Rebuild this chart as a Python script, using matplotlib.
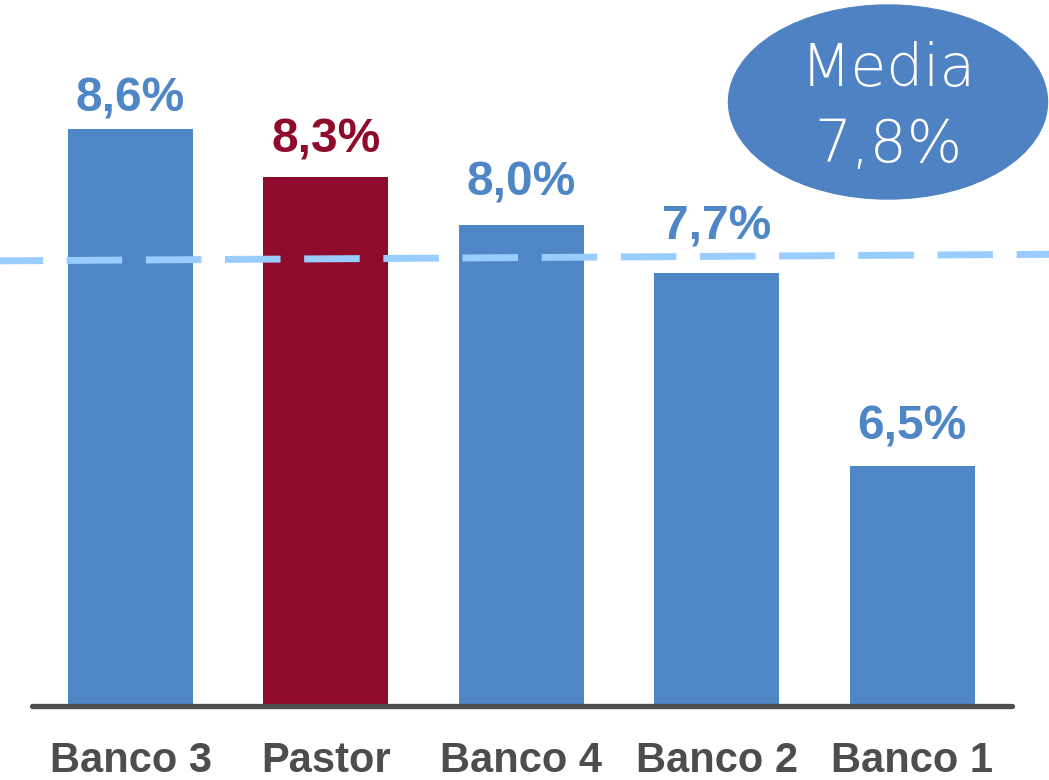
import matplotlib
matplotlib.use("Agg")
import matplotlib.pyplot as plt
from matplotlib.patches import Ellipse

categories = ["Banco 3", "Pastor", "Banco 4", "Banco 2", "Banco 1"]
values = [8.6, 8.3, 8.0, 7.7, 6.5]
labels = ["8,6%", "8,3%", "8,0%", "7,7%", "6,5%"]
mean_value = 7.8
mean_label = ["Media", "7,8%"]

# gap (in points) between each bar top and its value label baseline
label_gaps_pt = [12.5, 18, 21.5, 24.5, 19]

BLUE = "#4F86C6"
RED = "#8E0B2C"
colors = [RED if c == "Pastor" else BLUE for c in categories]

fig = plt.figure(figsize=(10.49, 7.80), dpi=100)
ax = fig.add_axes([0, 0, 1, 1])
ax.set_xlim(-0.668, 4.70)
ax.set_ylim(4.54, 9.405)
ax.axis("off")

x = list(range(len(categories)))
ax.bar(x, [v - 5 for v in values], bottom=5, width=0.64, color=colors, zorder=2)

# mean dashed line (slightly tilted as in the original)
ax.plot([-0.668, 4.70], [mean_value - 0.022, mean_value + 0.019], color="#99CCFF",
        lw=5, linestyle=(1.8, (8.0, 3.4)), zorder=3, dash_capstyle="butt")

# baseline
ax.plot([-0.504, 4.511], [5, 5], color="#4D4D4D", lw=3.8, solid_capstyle="round", zorder=4)

for xi, v, lab, c, g in zip(x, values, labels, colors, label_gaps_pt):
    ax.annotate(lab, (xi, v), xytext=(0, g), textcoords="offset points",
                ha="center", va="baseline", fontsize=34.5, fontweight="bold",
                color=c, family="Liberation Sans", zorder=5)

for xi, cat in zip(x, categories):
    ax.text(xi, 4.5875, cat, ha="center", va="baseline", fontsize=30,
            fontweight="bold", color="#4D4D4D", family="Liberation Sans")

ell = Ellipse((888 / 1049, 1 - 102 / 780), 319 / 1049, 194 / 780,
              transform=fig.transFigure, color="#4F82C2", zorder=5)
fig.patches.append(ell)
fig.text(888 / 1049, 1 - 86 / 780, mean_label[0], ha="center", va="baseline",
         fontsize=42, color="white", family="DejaVu Sans", fontweight="light", zorder=6)
fig.text(888 / 1049, 1 - 162 / 780, mean_label[1], ha="center", va="baseline",
         fontsize=42, color="white", family="DejaVu Sans", fontweight="light", zorder=6)

fig.savefig("out.png", dpi=100)
